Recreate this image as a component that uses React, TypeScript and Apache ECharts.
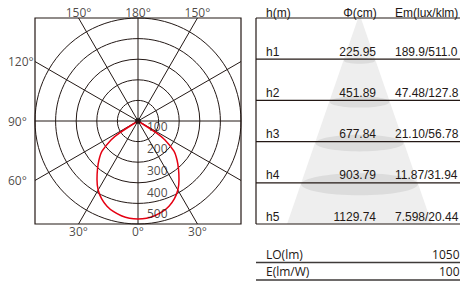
import React, { useEffect, useRef } from 'react';
import * as echarts from 'echarts';

// ---------- data ----------
const radiusTicks = [100, 200, 300, 400, 500];
const curveAngles = [0, 5, 10, 15, 20, 25, 30, 35, 40, 45, 50, 55, 57, 58];
const curveIntensity = [476, 474, 467, 456, 440, 417, 387, 347, 306, 268, 228, 160, 108, 0];
const spokeAngles = [0, 30, 60, 90, 120, 150];
const leftAngleLabels = [0, 30, 60, 90, 120, 150, 180];
const rightAngleLabels = [30, 150];

const tableHeaders = ['h(m)', 'Φ(cm)', 'Em(lux/klm)'];
const heightLabels = ['h1', 'h2', 'h3', 'h4', 'h5'];
const spotDiameters = [225.95, 451.89, 677.84, 903.79, 1129.74];
const emAverage = [189.9, 47.48, 21.1, 11.87, 7.598];
const emMaximum = [511.0, 127.8, 56.78, 31.94, 20.44];
const footerLabels = ['LO(lm)', 'E(lm/W)'];
const footerValues = [1050, 100];

// ---------- layout / style ----------
const LINE = '#231815';
const TEXT = '#231815';
const RED = '#e50012';
const BOX_LEFT = 35;
const BOX_TOP = 18;
const BOX_SIZE = 206;
const CX = BOX_LEFT + BOX_SIZE / 2;
const CY = BOX_TOP + BOX_SIZE / 2;
const RMAX = 500;

const T_LEFT = 256;
const T_RIGHT = 460;
const T_TOP = 18;
const ROW_H = 41.2;
const CONE_X = 359.5;
const coneHalf = (y: number) => (y - 14) * 0.345;
const TABLE_FONT = '"Liberation Sans", Arial, sans-serif';
const AXIS_FONT = '"Open Sans", "Noto Sans", sans-serif';

function edgePoint(phi: number, side: number): number[] {
  const s = Math.sin((phi * Math.PI) / 180) * side;
  const c = -Math.cos((phi * Math.PI) / 180);
  const t = RMAX / Math.max(Math.abs(s), Math.abs(c));
  return [s * t, c * t];
}

function angleLabelItem(phi: number, side: number) {
  const p = edgePoint(phi, side);
  const onBottom = Math.abs(p[1] + RMAX) < 1e-6;
  const onTop = Math.abs(p[1] - RMAX) < 1e-6;
  let label: any;
  if (onBottom) label = { align: 'center', offset: [0, 7] };
  else if (onTop) label = { align: 'center', offset: [0, -6] };
  else label = { align: 'left', offset: [-27, 0] };
  return {
    value: p,
    label: { show: true, position: 'inside', verticalAlign: 'middle', formatter: `${phi}°`, ...label },
  };
}

export default function App() {
  const ref = useRef<HTMLDivElement>(null);
  useEffect(() => {
    document.body.style.margin = '0';
    const chart = echarts.init(ref.current!, null, { renderer: 'svg' });

    // polar curve data: left side (angle a) then right side (360 - a)
    const curveData: number[][] = [];
    for (let i = curveAngles.length - 1; i >= 0; i--) curveData.push([curveIntensity[i], curveAngles[i]]);
    for (let i = 1; i < curveAngles.length; i++) curveData.push([curveIntensity[i], 360 - curveAngles[i]]);

    const spokeSeries = spokeAngles.map((phi) => {
      const p = edgePoint(phi, -1);
      return {
        type: 'line',
        xAxisIndex: 0,
        yAxisIndex: 0,
        data: [p, [-p[0], -p[1]]],
        symbol: 'none',
        silent: true,
        z: 2,
        lineStyle: { color: LINE, width: 1 },
      };
    });

    const angleLabelData = [
      ...leftAngleLabels.map((a) => angleLabelItem(a, -1)),
      ...rightAngleLabels.map((a) => angleLabelItem(a, 1)),
    ];

    // ---------- table graphics ----------
    const g: any[] = [];
    g.push({
      type: 'polygon',
      z: 1,
      shape: {
        points: [
          [CONE_X - coneHalf(T_TOP), T_TOP],
          [CONE_X + coneHalf(T_TOP), T_TOP],
          [CONE_X + coneHalf(T_TOP + 5 * ROW_H), T_TOP + 5 * ROW_H],
          [CONE_X - coneHalf(T_TOP + 5 * ROW_H), T_TOP + 5 * ROW_H],
        ],
      },
      style: { fill: '#eeeeee' },
    });
    for (let i = 1; i < 5; i++) {
      const y = T_TOP + i * ROW_H;
      const rx = coneHalf(y);
      g.push({
        type: 'ellipse',
        z: 2,
        shape: { cx: CONE_X, cy: y + 1.5, rx, ry: rx * 0.19 },
        style: { fill: '#dcdcdc' },
      });
    }
    // table lines
    g.push({ type: 'line', z: 5, shape: { x1: T_LEFT, y1: T_TOP, x2: T_RIGHT, y2: T_TOP }, style: { stroke: LINE, lineWidth: 1.2 } });
    g.push({ type: 'line', z: 5, shape: { x1: T_LEFT, y1: T_TOP, x2: T_LEFT, y2: T_TOP + 5 * ROW_H }, style: { stroke: LINE, lineWidth: 1.2 } });
    for (let i = 1; i <= 5; i++) {
      const y = T_TOP + i * ROW_H;
      g.push({ type: 'line', z: 5, shape: { x1: T_LEFT, y1: y, x2: T_RIGHT, y2: y }, style: { stroke: LINE, lineWidth: 1.2 } });
    }
    const txt = (text: string, x: number, y: number, align: string, font = TABLE_FONT) => ({
      type: 'text',
      z: 6,
      x,
      y,
      style: { text, fontSize: 12, fontFamily: font, fill: TEXT, align, verticalAlign: 'middle' },
    });
    const colX = [266, 376, 395];
    g.push(txt(tableHeaders[0], colX[0], 13, 'left'));
    g.push(txt(tableHeaders[1], 360, 13, 'center'));
    g.push(txt(tableHeaders[2], colX[2], 13, 'left'));
    for (let i = 0; i < heightLabels.length; i++) {
      const y = T_TOP + (i + 1) * ROW_H - 7.5;
      g.push(txt(heightLabels[i], colX[0], y, 'left'));
      g.push(txt(spotDiameters[i].toFixed(2), colX[1], y, 'right'));
      g.push(txt(`${emAverage[i].toPrecision(4)}/${emMaximum[i].toPrecision(4)}`, colX[2], y, 'left'));
    }
    for (let i = 0; i < footerLabels.length; i++) {
      const y = 254 + i * 17.5;
      g.push(txt(footerLabels[i], 266, y, 'left', AXIS_FONT));
      g.push(txt(String(footerValues[i]), 459.5, y, 'right', AXIS_FONT));
      g.push({ type: 'line', z: 5, shape: { x1: T_LEFT, y1: y + 8.5, x2: T_RIGHT, y2: y + 8.5 }, style: { stroke: '#3e3a39', lineWidth: 1.6 } });
    }

    chart.setOption({
      animation: false,
      grid: {
        left: BOX_LEFT,
        top: BOX_TOP,
        width: BOX_SIZE,
        height: BOX_SIZE,
        show: true,
        borderColor: LINE,
        borderWidth: 1.2,
        z: 3,
      },
      xAxis: { type: 'value', min: -RMAX, max: RMAX, show: false },
      yAxis: { type: 'value', min: -RMAX, max: RMAX, show: false },
      polar: { center: [CX, CY], radius: BOX_SIZE / 2 },
      angleAxis: {
        type: 'value',
        min: 0,
        max: 360,
        startAngle: 270,
        clockwise: true,
        axisLine: { show: false },
        axisTick: { show: false },
        axisLabel: { show: false },
        splitLine: { show: false },
      },
      radiusAxis: {
        type: 'value',
        min: 0,
        max: RMAX,
        interval: 100,
        axisLine: { show: false },
        axisTick: { show: false },
        axisLabel: { show: false },
        splitLine: { show: true, lineStyle: { color: LINE, width: 1 } },
      },
      graphic: g,
      series: [
        ...spokeSeries,
        {
          type: 'line',
          coordinateSystem: 'polar',
          data: curveData,
          smooth: 0.3,
          symbol: 'none',
          silent: true,
          z: 5,
          lineStyle: { color: RED, width: 1.5 },
        },
        {
          type: 'scatter',
          coordinateSystem: 'polar',
          data: radiusTicks.map((r, i) => ({
            value: [r, 0],
            label: { offset: [9, -(15 - 1.2 * i)] },
          })),
          symbolSize: 0,
          silent: true,
          z: 6,
          label: {
            show: true,
            position: 'inside',
            align: 'left',
            verticalAlign: 'middle',
            formatter: (p: any) => String(p.value[0]),
            fontSize: 12,
            fontFamily: AXIS_FONT,
            color: TEXT,
          },
        },
        {
          type: 'scatter',
          xAxisIndex: 0,
          yAxisIndex: 0,
          data: angleLabelData,
          symbolSize: 0,
          silent: true,
          z: 6,
          label: { fontSize: 12, fontFamily: AXIS_FONT, color: TEXT },
        },
        {
          type: 'scatter',
          xAxisIndex: 0,
          yAxisIndex: 0,
          data: [[0, 0]],
          symbolSize: 6,
          silent: true,
          z: 7,
          itemStyle: { color: '#111111' },
        },
      ],
    });
    return () => chart.dispose();
  }, []);
  return <div ref={ref} style={{ width: 460, height: 282 }} />;
}
